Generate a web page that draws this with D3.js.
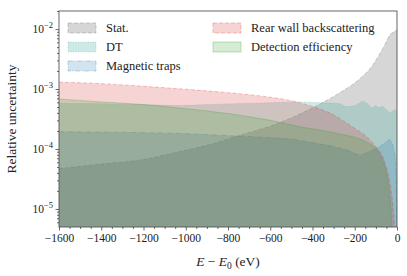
<!DOCTYPE html>
<html><head><meta charset="utf-8">
<script src="https://cdn.jsdelivr.net/npm/d3@7"></script>
<style>svg text{font-family:'Liberation Serif',Tinos,serif !important;}</style>
</head><body style="margin:0;background:#fff"><svg id="chart" width="407" height="276"></svg>
<script>
// Energy (eV) and relative-uncertainty series
const statE = [-1600,-1400,-1200,-1030,-900,-730,-600,-500,-350,-270,-190,-115,-57,-33,-15,0];
const statV = [4.7e-5,5.6e-5,6.7e-5,9.0e-5,1.15e-4,1.75e-4,2.4e-4,3.3e-4,6.0e-4,8.7e-4,1.35e-3,2.5e-3,5.5e-3,8.0e-3,9.0e-3,9.6e-3];
const dtE = [-1600,-1400,-1200,-1030,-900,-770,-600,-480,-350,-270,-240,-200,-160,-140,-115,-100,-85,-70,-50,-33,-20,-9,-3,0];
const dtV = [5.8e-4,5.7e-4,5.5e-4,5.3e-4,5.5e-4,5.7e-4,5.9e-4,6.1e-4,5.9e-4,5.7e-4,5.1e-4,5.3e-4,6.2e-4,5.7e-4,4.9e-4,5.3e-4,4.9e-4,5.1e-4,4.5e-4,4.1e-4,4.3e-4,4.5e-4,4.2e-4,4.0e-4];
const magE = [-1600,-1400,-1200,-1000,-800,-600,-480,-400,-300,-230,-175,-130,-80,-50,-33,-20,-9,-3,0];
const magV = [1.94e-4,1.91e-4,1.87e-4,1.80e-4,1.67e-4,1.54e-4,1.43e-4,1.27e-4,1.1e-4,9.4e-5,8.0e-5,9.1e-5,1.1e-4,1.32e-4,1.43e-4,1.13e-4,7.5e-5,2.5e-5,1e-7];
const rearE = [-1600,-1400,-1200,-1000,-800,-600,-500,-400,-300,-200,-150,-100,-70,-50,-30,-20,-10,0];
const rearV = [1.30e-3,1.23e-3,1.11e-3,9.9e-4,8.7e-4,7.3e-4,6.4e-4,5.1e-4,3.7e-4,2.2e-4,1.67e-4,1.09e-4,7.7e-5,4.9e-5,2.26e-5,1.18e-5,3.5e-6,1e-7];
const detE = [-1600,-1400,-1200,-1000,-800,-600,-460,-300,-140,-95,-70,-47,-35,-24,-10,0];
const detV = [6.8e-4,6.1e-4,5.5e-4,4.7e-4,3.9e-4,3.0e-4,2.35e-4,1.87e-4,1.27e-4,9.7e-5,6.6e-5,3.45e-5,1.73e-5,5e-6,1e-7,1e-7];
const seriesNames = ["Stat.","DT","Magnetic traps","Rear wall backscattering","Detection efficiency"];
const xTicks = [-1600,-1400,-1200,-1000,-800,-600,-400,-200,0];
const yTickExp = [-5,-4,-3,-2];

const styles = [
  {fill:"#7f7f7f", op:0.32, dash:"4,2"},
  {fill:"#3caaa0", op:0.25, dash:"1,1.5"},
  {fill:"#1f77b4", op:0.2, dash:"5,1.5,1,1.5"},
  {fill:"#d62728", op:0.2, dash:"4,2"},
  {fill:"#2ca02c", op:0.2, dash:null}
];
const data = [[statE,statV],[dtE,dtV],[magE,magV],[rearE,rearV],[detE,detV]]
  .map(([e,v]) => e.map((d,i)=>({e:d,v:v[i]})));

const L=59,R=397,T=11,B=227;
const svg = d3.select("#chart");
const x = d3.scaleLinear().domain([-1600,0]).range([L,R]);
const y = d3.scaleLog().domain([5e-6,2e-2]).range([B,T]);

function txt(sel, size){ return sel.attr("font-family","Liberation Serif").style("font-size",size+"px").style("fill","#222"); }

svg.append("clipPath").attr("id","plotclip").append("rect").attr("x",L).attr("y",T).attr("width",R-L).attr("height",B-T);
const g = svg.append("g").attr("clip-path","url(#plotclip)");
const yc = v => y(Math.max(v,1e-8));
const area = d3.area().x(d=>x(d.e)).y0(B+5).y1(d=>yc(d.v)).curve(d3.curveMonotoneX);
const line = d3.line().x(d=>x(d.e)).y(d=>yc(d.v)).curve(d3.curveMonotoneX);
data.forEach((d,i)=>{
  const s=styles[i];
  g.append("path").attr("d",area(d)).attr("fill",s.fill).attr("fill-opacity",s.op);
  g.append("path").attr("d",line(d)).attr("fill","none").attr("stroke",s.fill).attr("stroke-opacity",s.op+0.15)
   .attr("stroke-width",0.8).attr("stroke-dasharray",s.dash);
});

svg.append("rect").attr("x",L).attr("y",T).attr("width",R-L).attr("height",B-T).attr("fill","none").attr("stroke","#555").attr("stroke-width",0.9);

const xa = svg.append("g").attr("transform",`translate(0,${B})`)
  .call(d3.axisBottom(x).tickValues(xTicks).tickSize(3.5).tickPadding(3).tickFormat(d=>d3.format("d")(d).replace("-","\u2212")));
const xm = svg.append("g").attr("transform",`translate(0,${B})`)
  .call(d3.axisBottom(x).tickValues(d3.range(-1600,1,50).filter(v=>v%200!==0)).tickSize(2).tickFormat(""));
[xa,xm].forEach(a=>{a.attr("font-family","Liberation Serif").attr("font-size",11.5);a.select(".domain").remove();a.selectAll("line").attr("stroke","#444").attr("stroke-width",0.8);});
txt(xa.selectAll("text"),11.5);

const ya = svg.append("g").attr("transform",`translate(${L},0)`)
  .call(d3.axisLeft(y).tickValues(yTickExp.map(e=>Math.pow(10,e))).tickSize(3.5).tickFormat(""));
const minors=[];
for(let e=-6;e<=-2;e++) for(let k=2;k<=9;k++){const v=k*Math.pow(10,e); if(v>=5e-6&&v<=2e-2) minors.push(v);}
const ym = svg.append("g").attr("transform",`translate(${L},0)`)
  .call(d3.axisLeft(y).tickValues(minors).tickSize(2).tickFormat(""));
[ya,ym].forEach(a=>{a.select(".domain").remove();a.selectAll("line").attr("stroke","#444").attr("stroke-width",0.8);});
yTickExp.forEach(e=>{
  const t = txt(svg.append("text"),11.5).attr("x",L-6).attr("y",y(Math.pow(10,e))+4).attr("text-anchor","end");
  t.append("tspan").text("10");
  t.append("tspan").attr("dy",-5).style("font-size","8.5px").text("\u2212"+(-e));
});

const xt = txt(svg.append("text"),13.5).attr("x",228).attr("y",266).attr("text-anchor","middle");
xt.append("tspan").style("font-style","italic").text("E");
xt.append("tspan").text(" \u2212 ");
xt.append("tspan").style("font-style","italic").text("E");
xt.append("tspan").attr("dy",3).style("font-size","9.5px").text("0");
xt.append("tspan").attr("dy",-3).text(" (eV)");
txt(svg.append("text"),13.5).attr("transform",`translate(16,${(T+B)/2}) rotate(-90)`).attr("text-anchor","middle").text("Relative uncertainty");

const legPos = [[68,28],[68,47],[68,66],[213,28],[213,47]];
seriesNames.forEach((n,i)=>{
  const s=styles[i], [lx,ly]=legPos[i];
  svg.append("rect").attr("x",lx).attr("y",ly-5).attr("width",28).attr("height",10)
    .attr("fill",s.fill).attr("fill-opacity",s.op).attr("stroke",s.fill).attr("stroke-opacity",s.op+0.15)
    .attr("stroke-width",0.8).attr("stroke-dasharray",s.dash);
  txt(svg.append("text"),12.5).attr("x",lx+38).attr("y",ly+4).text(n);
});
</script></body></html>
